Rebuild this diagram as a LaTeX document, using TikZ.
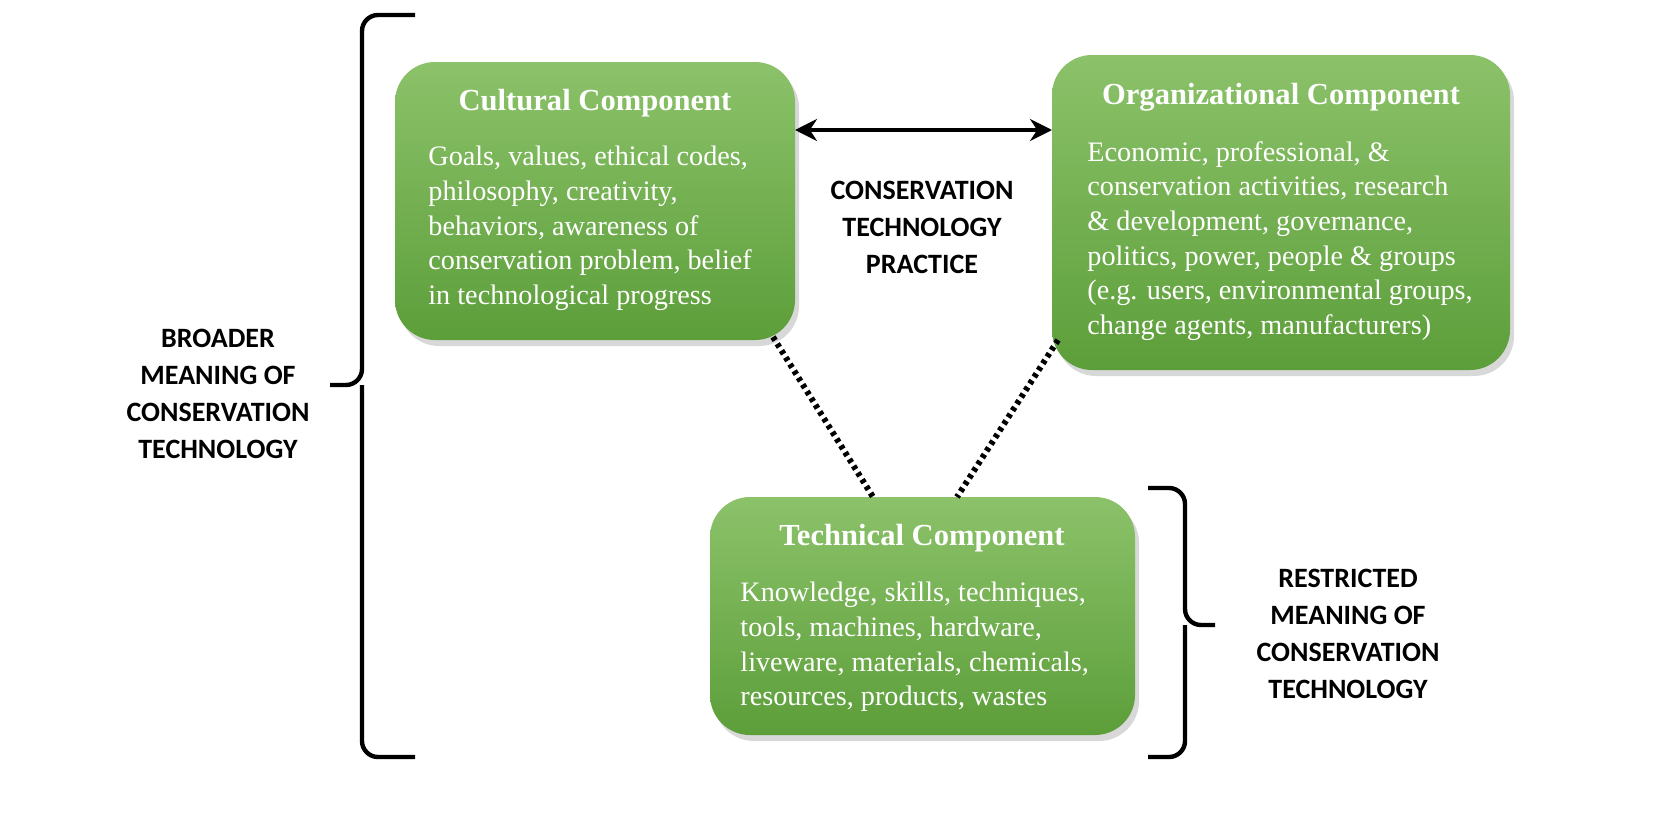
\documentclass[tikz,border=0pt]{standalone}
\usepackage{fontspec}
\setmainfont{Liberation Serif}
\newfontfamily\lbl{Carlito}
\usetikzlibrary{arrows.meta,shadows}
\definecolor{gtop}{HTML}{8CC26A}
\definecolor{gbot}{HTML}{5C9E3A}
\tikzset{
 comp/.style={rounded corners=20pt, top color=gtop, bottom color=gbot, drop shadow={opacity=0.3,shadow xshift=2pt,shadow yshift=-3pt}},
 ttl/.style={font=\fontsize{15.3}{17}\selectfont\bfseries, text=white, anchor=center},
 bdy/.style={font=\fontsize{14.1}{17.3}\selectfont, text=white, align=left, anchor=north west, inner sep=0pt},
 lab/.style={font=\lbl\bfseries\fontsize{14}{18.5}\selectfont, align=center},
 brc/.style={line width=2.2pt, rounded corners=8pt},
}
\begin{document}
\begin{tikzpicture}[x=0.5pt,y=-0.5pt]
\useasboundingbox (0,0) rectangle (1654,819);
\fill[white] (0,0) rectangle (1654,819);
% boxes
\path[comp] (395,62) rectangle (795,340);
\path[comp] (1052,55) rectangle (1510,370);
\path[comp] (710,497) rectangle (1135,735);
\node[ttl] (ct) at (595,103) {Cultural Component};
\node[bdy] (cb) at (428,146) {Goals, values, ethical codes,\\philosophy, creativity,\\behaviors, awareness of\\conservation problem, belief\\in technological progress};
\node[ttl] (ot) at (1281,97) {Organizational Component};
\node[bdy] (ob) at (1087,141) {Economic, professional, \&\\conservation activities, research\\\& development, governance,\\politics, power, people \& groups\\(e.g. users, environmental groups,\\change agents, manufacturers)};
\node[ttl] (tt) at (922,538) {Technical Component};
\node[bdy] (tb) at (740,582) {Knowledge, skills, techniques,\\tools, machines, hardware,\\liveware, materials, chemicals,\\resources, products, wastes};
% connectors
\coordinate (a1) at (795,130); \coordinate (a2) at (1052,130);
\draw[line width=2.2pt,{Stealth[length=11pt,width=11pt]}-{Stealth[length=11pt,width=11pt]}] (a1) -- (a2);
\coordinate (d1) at (773,337); \coordinate (d2) at (873,497);
\coordinate (d3) at (1058,340); \coordinate (d4) at (957,497);
\draw[line width=3pt, dash pattern=on 2pt off 2pt] (d1) -- (d2);
\draw[line width=3pt, dash pattern=on 2pt off 2pt] (d3) -- (d4);
\node[lab] (ctp) at (922,227) {CONSERVATION\\TECHNOLOGY\\PRACTICE};
\node[lab] (bm) at (218,394) {BROADER\\MEANING OF\\CONSERVATION\\TECHNOLOGY};
\node[lab] (rm) at (1348,634) {RESTRICTED\\MEANING OF\\CONSERVATION\\TECHNOLOGY};
% braces
\draw[brc] (415,15) -- (362,15) -- (362,385) -- (330,385);
\draw[brc] (415,757) -- (362,757) -- (362,385);
\draw[brc] (1148,488) -- (1185,488) -- (1185,625) -- (1215,625);
\draw[brc] (1148,757) -- (1185,757) -- (1185,625);
\end{tikzpicture}
\end{document}
